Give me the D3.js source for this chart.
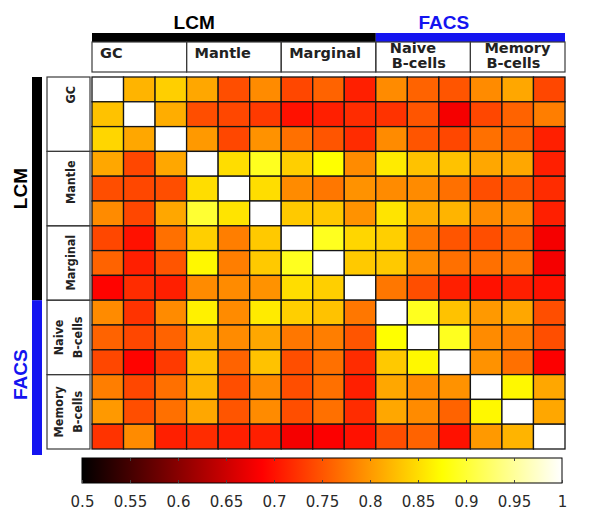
<!DOCTYPE html>
<html>
<head>
<meta charset="utf-8">
<script src="https://cdn.jsdelivr.net/npm/d3@7"></script>
<style>
  body { margin: 0; background: #fff; }
</style>
</head>
<body>
<div id="chart"></div>
<script>
// sample groups and the two data sources
var groups = ["GC", "Mantle", "Marginal", "Naive B-cells", "Memory B-cells"];
var sources = [
    {name: "LCM", first: "GC", last: "Marginal", color: "#000000"},
    {name: "FACS", first: "Naive B-cells", last: "Memory B-cells", color: "#1414f0"}
];
var samples = ["GC1", "GC2", "GC3", "Mantle1", "Mantle2", "Mantle3", "Marginal1", "Marginal2", "Marginal3",
               "Naive1", "Naive2", "Naive3", "Memory1", "Memory2", "Memory3"];

// correlation matrix (row = y sample, col = x sample)
var corr = [
    [1.00, 0.82, 0.84, 0.81, 0.745, 0.79, 0.74, 0.76, 0.71, 0.79, 0.76, 0.75, 0.79, 0.81, 0.74],
    [0.83, 1.00, 0.815, 0.745, 0.74, 0.73, 0.70, 0.71, 0.72, 0.725, 0.75, 0.68, 0.74, 0.76, 0.78],
    [0.845, 0.81, 1.00, 0.80, 0.74, 0.795, 0.77, 0.75, 0.72, 0.79, 0.75, 0.74, 0.77, 0.76, 0.71],
    [0.81, 0.74, 0.81, 1.00, 0.85, 0.89, 0.84, 0.875, 0.79, 0.86, 0.83, 0.83, 0.81, 0.81, 0.71],
    [0.745, 0.74, 0.745, 0.85, 1.00, 0.85, 0.79, 0.775, 0.795, 0.79, 0.79, 0.77, 0.745, 0.75, 0.72],
    [0.79, 0.74, 0.81, 0.90, 0.855, 1.00, 0.835, 0.835, 0.795, 0.855, 0.815, 0.82, 0.79, 0.79, 0.71],
    [0.74, 0.70, 0.77, 0.84, 0.78, 0.835, 1.00, 0.89, 0.845, 0.84, 0.775, 0.75, 0.745, 0.76, 0.68],
    [0.76, 0.71, 0.75, 0.87, 0.78, 0.835, 0.89, 1.00, 0.835, 0.835, 0.79, 0.77, 0.77, 0.775, 0.68],
    [0.69, 0.72, 0.71, 0.79, 0.79, 0.795, 0.85, 0.84, 1.00, 0.775, 0.745, 0.71, 0.70, 0.71, 0.70],
    [0.79, 0.725, 0.79, 0.865, 0.79, 0.86, 0.84, 0.83, 0.775, 1.00, 0.89, 0.83, 0.80, 0.81, 0.745],
    [0.76, 0.74, 0.76, 0.82, 0.79, 0.81, 0.775, 0.78, 0.75, 0.875, 1.00, 0.89, 0.79, 0.78, 0.745],
    [0.74, 0.69, 0.73, 0.83, 0.76, 0.83, 0.745, 0.77, 0.72, 0.835, 0.87, 1.00, 0.795, 0.77, 0.685],
    [0.78, 0.74, 0.77, 0.82, 0.745, 0.79, 0.745, 0.77, 0.71, 0.81, 0.79, 0.795, 1.00, 0.87, 0.81],
    [0.80, 0.745, 0.77, 0.81, 0.75, 0.79, 0.745, 0.77, 0.72, 0.81, 0.79, 0.76, 0.87, 1.00, 0.81],
    [0.725, 0.79, 0.71, 0.72, 0.71, 0.71, 0.68, 0.685, 0.70, 0.745, 0.76, 0.70, 0.80, 0.82, 1.00]
];

var colorTicks = [0.5, 0.55, 0.6, 0.65, 0.7, 0.75, 0.8, 0.85, 0.9, 0.95, 1];

var width = 600, height = 522;

var svg = d3.select("#chart").append("svg")
    .attr("width", width)
    .attr("height", height)
    .style("font-family", "'DejaVu Sans', Verdana, sans-serif");

// scales
var x = d3.scaleBand().domain(samples).range([92, 565]);
var y = d3.scaleBand().domain(samples).range([77, 449]);
var gx = d3.scaleBand().domain(groups).range([92, 565]);
var gy = d3.scaleBand().domain(groups).range([77, 449]);

// matlab "hot" colormap over 0.5..1
var color = d3.scaleLinear()
    .domain([0.5, 0.6875, 0.875, 1])
    .range(["#000000", "#ff0000", "#ffff00", "#ffffff"])
    .clamp(true);

// heatmap cells
var cells = [];
corr.forEach(function (row, r) {
    row.forEach(function (v, c) {
        cells.push({row: samples[r], col: samples[c], value: v});
    });
});

svg.append("g").selectAll("rect")
    .data(cells)
    .enter()
    .append("rect")
    .attr("x", function (d) { return x(d.col); })
    .attr("y", function (d) { return y(d.row); })
    .attr("width", x.bandwidth())
    .attr("height", y.bandwidth())
    .style("fill", function (d) { return color(d.value); })
    .style("stroke", "#151515")
    .style("stroke-width", 1.3);

// source bars (top and left)
sources.forEach(function (s) {
    var x0 = gx(s.first), x1 = gx(s.last) + gx.bandwidth();
    var y0 = gy(s.first), y1 = gy(s.last) + gy.bandwidth();
    svg.append("rect")
        .attr("x", x0).attr("y", 33)
        .attr("width", x1 - x0).attr("height", 9)
        .style("fill", s.color);
    svg.append("text")
        .attr("x", x0 + (x1 - x0) * 0.36)
        .attr("y", 29)
        .attr("text-anchor", "middle")
        .style("font-family", "'Liberation Sans', Arial, sans-serif")
        .style("font-weight", "bold")
        .style("font-size", "19px")
        .style("fill", s.color)
        .text(s.name);

    svg.append("rect")
        .attr("x", 32).attr("y", y0)
        .attr("width", 10).attr("height", y1 - y0 + (s.name == "FACS" ? 6 : 0))
        .style("fill", s.color);
    svg.append("text")
        .attr("transform", "translate(27," + ((y0 + y1) / 2) + ") rotate(-90)")
        .attr("text-anchor", "middle")
        .style("font-family", "'Liberation Sans', Arial, sans-serif")
        .style("font-weight", "bold")
        .style("font-size", "19px")
        .style("fill", s.color)
        .text(s.name);
});

// top group boxes
var topHead = svg.append("g");
groups.forEach(function (g) {
    var lines = g.split(" ");
    topHead.append("rect")
        .attr("x", gx(g)).attr("y", 42)
        .attr("width", gx.bandwidth()).attr("height", 30)
        .style("fill", "none")
        .style("stroke", "#3a3a3a")
        .style("stroke-width", 1.2);
    var t = topHead.append("text")
        .style("font-weight", "bold")
        .style("font-size", "14.5px")
        .style("fill", "#222");
    if (lines.length == 1) {
        t.attr("x", gx(g) + 8).attr("y", 58).text(g);
    } else {
        t.append("tspan").attr("x", gx(g) + 14).attr("y", 53).text(lines[0]);
        t.append("tspan").attr("x", gx(g) + 16).attr("y", 68).text(lines[1]);
    }
});

// left group boxes
var leftHead = svg.append("g")
    .style("font-family", "'DejaVu Sans Condensed', 'DejaVu Sans', sans-serif")
    .style("font-weight", "bold")
    .style("font-size", "12.5px")
    .style("fill", "#222");
groups.forEach(function (g) {
    var lines = g.split(" ");
    leftHead.append("rect")
        .attr("x", 47).attr("y", gy(g))
        .attr("width", 43).attr("height", gy.bandwidth())
        .style("fill", "none")
        .style("stroke", "#3a3a3a")
        .style("stroke-width", 1.2);
    if (lines.length == 1) {
        leftHead.append("text")
            .attr("transform", "translate(75," + (gy(g) + 9) + ") rotate(-90)")
            .attr("text-anchor", "end")
            .text(g);
    } else {
        var cy = gy(g) + gy.bandwidth() / 2;
        leftHead.append("text")
            .attr("transform", "translate(63," + cy + ") rotate(-90)")
            .attr("text-anchor", "middle")
            .text(lines[0]);
        leftHead.append("text")
            .attr("transform", "translate(82," + cy + ") rotate(-90)")
            .attr("text-anchor", "middle")
            .text(lines[1]);
    }
});

// colour bar
var cb = d3.scaleLinear().domain([0.5, 1]).range([82, 562]);
var grad = svg.append("defs").append("linearGradient")
    .attr("id", "hot")
    .attr("x1", "0%").attr("x2", "100%")
    .attr("y1", "0%").attr("y2", "0%");
grad.selectAll("stop")
    .data(d3.range(0, 1.0001, 0.025))
    .enter()
    .append("stop")
    .attr("offset", function (d) { return (d * 100) + "%"; })
    .attr("stop-color", function (d) { return color(0.5 + d * 0.5); });

svg.append("rect")
    .attr("x", cb(0.5)).attr("y", 458)
    .attr("width", cb(1) - cb(0.5)).attr("height", 25)
    .style("fill", "url(#hot)")
    .style("stroke", "#000")
    .style("stroke-width", 1);

svg.append("g")
    .attr("transform", "translate(0,483)")
    .call(d3.axisBottom(cb).tickValues(colorTicks).tickSize(-3).tickFormat(d3.format("")))
    .call(function (g) {
        g.select(".domain").remove();
        g.selectAll(".tick line").style("stroke", "#444");
        g.selectAll(".tick text")
            .attr("y", 13)
            .style("font-family", "'DejaVu Sans', sans-serif")
            .style("font-size", "15px")
            .style("fill", "#2a2a2a");
    });
svg.append("g")
    .attr("transform", "translate(0,458)")
    .call(d3.axisTop(cb).tickValues(colorTicks.slice(1, -1)).tickSize(-3).tickFormat(""))
    .call(function (g) {
        g.select(".domain").remove();
        g.selectAll(".tick line").style("stroke", "#444");
    });
</script>
</body>
</html>
